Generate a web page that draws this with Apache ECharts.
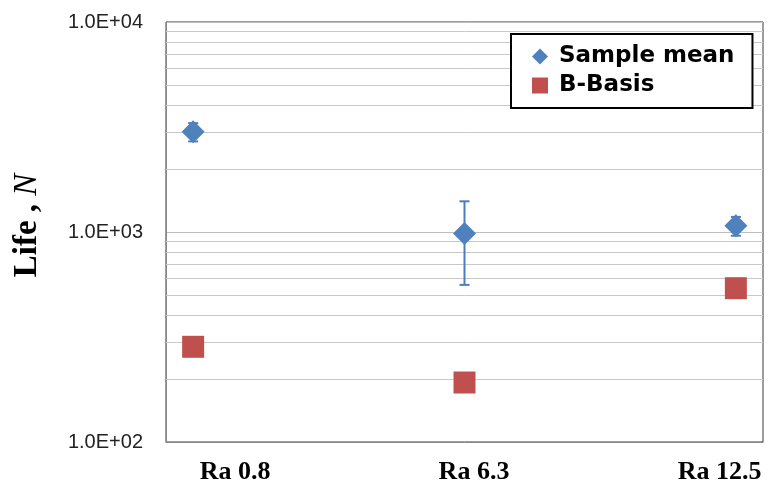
<!DOCTYPE html>
<html>
<head>
<meta charset="utf-8">
<script src="https://cdn.jsdelivr.net/npm/echarts@6/dist/echarts.min.js"></script>
<style>html,body{margin:0;padding:0;background:#fff}#c{width:768px;height:488px}</style>
</head>
<body>
<div id="c"></div>
<script>
const categories = ['Ra 0.8', 'Ra 6.3', 'Ra 12.5'];
const sampleMean = [3000, 985, 1070];
const errLow = [2700, 560, 960];
const errHigh = [3300, 1400, 1180];
const bBasis = [284, 192, 540];
const yTickLabels = ['1.0E+02', '1.0E+03', '1.0E+04'];
const minorGridValues = [200, 300, 400, 500, 600, 700, 800, 900, 2000, 3000, 4000, 5000, 6000, 7000, 8000, 9000];

const chart = echarts.init(document.getElementById('c'), null, {renderer: 'canvas'});
const meanColor = '#4F81BD';
const bColor = '#C0504D';

const meanData = categories.map((c, i) => [i, sampleMean[i]]);
const bData = categories.map((c, i) => [i, bBasis[i]]);
const errData = categories.map((c, i) => [i, errLow[i], errHigh[i]]);

chart.setOption({
  animation: false,
  backgroundColor: '#fff',
  grid: {left: 166, right: 5, top: 22, bottom: 46, show: true, borderColor: '#3a3a3a', borderWidth: 1, backgroundColor: 'transparent'},
  legend: {
    orient: 'vertical', left: 511, top: 34, z: 20,
    padding: [11, 18, 11, 21],
    itemGap: 6, itemWidth: 16, itemHeight: 16,
    borderColor: '#000', borderWidth: 2, backgroundColor: '#fff',
    textStyle: {fontFamily: 'DejaVu Sans', fontWeight: 'bold', fontSize: 23, color: '#000', padding: [0, 0, 0, 6]},
    itemStyle: {opacity: 1},
    data: [
      {name: 'Sample mean', icon: 'diamond'},
      {name: 'B-Basis', icon: 'rect'}
    ]
  },
  xAxis: {
    type: 'value', min: -0.1, max: 2.1,
    splitLine: {show: false},
    axisTick: {show: false},
    axisLine: {show: true, onZero: false, lineStyle: {color: '#888', width: 1}},
    axisLabel: {
      customValues: [0.155, 1.035, 1.94],
      formatter: v => categories[Math.round(v)],
      fontFamily: 'Liberation Serif', fontWeight: 'bold', fontSize: 26, color: '#000', margin: 17
    }
  },
  yAxis: {
    type: 'log', logBase: 10, min: 100, max: 10000,
    name: '{b|Life , }{i|N}',
    nameLocation: 'middle', nameGap: 122, nameRotate: 90,
    nameTextStyle: {
      padding: [0, 0, 0, 13],
      rich: {
        b: {fontFamily: 'Liberation Serif', fontWeight: 'bold', fontSize: 33, color: '#000'},
        i: {fontFamily: 'Liberation Serif', fontStyle: 'italic', fontSize: 33, color: '#000'}
      }
    },
    axisLine: {show: true, onZero: false, lineStyle: {color: '#888', width: 1}},
    axisTick: {show: false},
    splitLine: {show: true, lineStyle: {color: '#bdbdbd', width: 1}},
    axisLabel: {
      formatter: v => yTickLabels[Math.round(Math.log10(v)) - 2],
      fontFamily: 'Liberation Sans', fontSize: 20, color: '#222', margin: 23
    }
  },
  series: [
    {
      type: 'scatter', name: '_grid', data: [], silent: true, z: 1,
      markLine: {
        silent: true, symbol: 'none', animation: false, z: 1,
        label: {show: false},
        lineStyle: {color: '#c8c8c8', width: 1, type: 'solid'},
        data: minorGridValues.map(v => ({yAxis: v}))
      }
    },
    {
      type: 'custom', name: 'err', data: errData, z: 3,
      renderItem: (params, api) => {
        const x = api.value(0);
        const lo = api.coord([x, api.value(1)]);
        const hi = api.coord([x, api.value(2)]);
        const w = 5;
        const st = {stroke: '#4A7EBB', lineWidth: 2};
        return {type: 'group', children: [
          {type: 'line', shape: {x1: lo[0], y1: lo[1], x2: hi[0], y2: hi[1]}, style: st},
          {type: 'line', shape: {x1: lo[0] - w, y1: lo[1], x2: lo[0] + w, y2: lo[1]}, style: st},
          {type: 'line', shape: {x1: hi[0] - w, y1: hi[1], x2: hi[0] + w, y2: hi[1]}, style: st}
        ]};
      }
    },
    {
      type: 'scatter', name: 'Sample mean', data: meanData, symbol: 'diamond', symbolSize: 23,
      itemStyle: {color: meanColor, opacity: 1}, z: 5
    },
    {
      type: 'scatter', name: 'B-Basis', data: bData, symbol: 'rect', symbolSize: 22,
      itemStyle: {color: bColor, opacity: 1}, z: 5
    }
  ]
});
</script>
</body>
</html>
